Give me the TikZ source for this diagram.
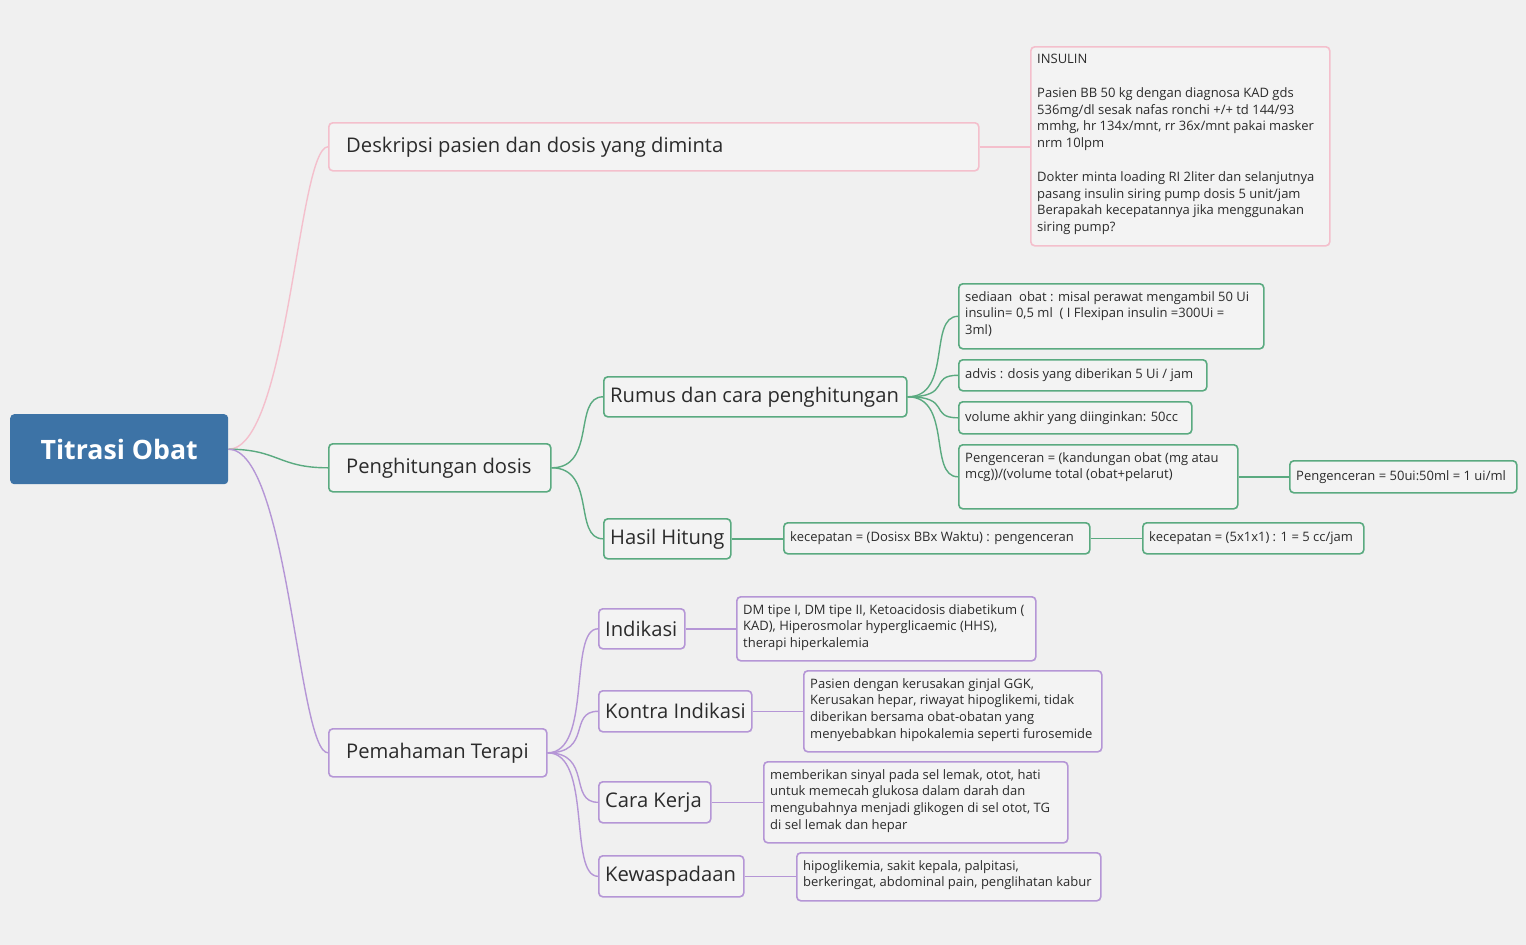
\documentclass[tikz,border=0pt]{standalone}
\usepackage{fontspec}
\setmainfont{Open Sans}
\definecolor{bg}{HTML}{F0F0F0}
\definecolor{boxbg}{HTML}{F3F3F3}
\definecolor{pinkc}{HTML}{F4BFCC}
\definecolor{greenc}{HTML}{5AAA80}
\definecolor{purc}{HTML}{B596D6}
\definecolor{rootc}{HTML}{3D73A6}
\definecolor{txt}{HTML}{2B2B2B}
\tikzset{
 boxsh/.style={draw=#1, fill=boxbg, rounded corners=4pt, line width=1.6pt, anchor=north west, inner sep=0pt},
 sm/.style={font=\fontsize{13}{16.8}\selectfont, text=txt, align=left, inner sep=0pt},
 bg1/.style={font=\fontsize{20.2}{24}\selectfont, text=txt, inner sep=0pt},
 lnk/.style={draw=#1, line width=1.4pt},
}
% name x1 y1 x2 y2 color textstyle text
\newcommand\bxc[9]{%
 \node[boxsh=#6, minimum width={(#4-#2)*1pt}, minimum height={(#5-#3)*1pt}] (#1) at (#2,#3) {};
 \node[#7, anchor=west] (#1t) at ([xshift=#9pt]#1.west) {#8};}
\newcommand\bxt[8]{%
 \node[boxsh=#6, minimum width={(#4-#2)*1pt}, minimum height={(#5-#3)*1pt}] (#1) at (#2,#3) {};
 \node[#7, anchor=north west] (#1t) at ([xshift=7pt,yshift=-8pt]#1.north west) {#8};}
\newcommand\cv[3]{\draw[lnk=#1] (#2.east) .. controls +(45,0) and +(-30,0) .. (#3.west);}
\begin{document}
\begin{tikzpicture}[x=1pt,y=-1pt]
\fill[bg] (0,0) rectangle (1526,945);
\useasboundingbox (0,0) rectangle (1526,945);
\node[fill=rootc, rounded corners=4pt, minimum width=218pt, minimum height=70pt, anchor=north west, inner sep=0pt,
  text=white, font=\fontsize{26.7}{30}\selectfont\bfseries] (root) at (10,414) {Titrasi Obat};
\bxc{desc}{328}{122}{978}{170}{pinkc}{bg1}{Deskripsi pasien dan dosis yang diminta}{18}
\bxt{ins}{1030}{46}{1329}{245}{pinkc}{sm}{INSULIN\\[16.8pt]Pasien BB 50 kg dengan diagnosa KAD gds\\536mg/dl sesak nafas ronchi +/+ td 144/93\\mmhg, hr 134x/mnt, rr 36x/mnt pakai masker\\nrm 10lpm\\[16.8pt]Dokter minta loading RI 2liter dan selanjutnya\\pasang insulin siring pump dosis 5 unit/jam\\Berapakah kecepatannya jika menggunakan\\siring pump?}
\bxc{peng}{328}{443}{550}{491}{greenc}{bg1}{Penghitungan dosis}{18}
\bxc{rumus}{603}{376}{906}{416}{greenc}{bg1}{Rumus dan cara penghitungan}{7}
\bxc{hasil}{603}{518}{730}{558}{greenc}{bg1}{Hasil Hitung}{7}
\bxt{s1}{958}{283}{1263}{348}{greenc}{sm}{sediaan\ \ obat : misal perawat mengambil 50 Ui\\insulin= 0,5 ml\ \ ( I Flexipan insulin =300Ui =\\3ml)}
\bxc{s2}{958}{359}{1206}{390}{greenc}{sm}{advis : dosis yang diberikan 5 Ui / jam}{7}
\bxc{s3}{958}{401}{1191}{433}{greenc}{sm}{volume akhir yang diinginkan: 50cc}{7}
\bxt{s4}{958}{444}{1237}{508}{greenc}{sm}{Pengenceran = (kandungan obat (mg atau\\mcg))/(volume total (obat+pelarut)}
\bxc{s5}{1289}{460}{1516}{492}{greenc}{sm}{Pengenceran = 50ui:50ml = 1 ui/ml}{7}
\bxc{k1}{783}{522}{1089}{553}{greenc}{sm}{kecepatan = (Dosisx BBx Waktu) : pengenceran}{7}
\bxc{k2}{1142}{522}{1363}{553}{greenc}{sm}{kecepatan = (5x1x1) : 1 = 5 cc/jam}{7}
\bxc{pem}{328}{728}{546}{776}{purc}{bg1}{Pemahaman Terapi}{18}
\bxc{ind}{598}{608}{684}{648}{purc}{bg1}{Indikasi}{7}
\bxc{kon}{598}{690}{751}{731}{purc}{bg1}{Kontra Indikasi}{7}
\bxc{cara}{598}{781}{710}{822}{purc}{bg1}{Cara Kerja}{7}
\bxc{kew}{598}{855}{743}{896}{purc}{bg1}{Kewaspadaan}{7}
\bxt{t1}{736}{596}{1035}{660}{purc}{sm}{DM tipe I, DM tipe II, Ketoacidosis diabetikum (\\KAD), Hiperosmolar hyperglicaemic (HHS),\\therapi hiperkalemia}
\bxt{t2}{803}{670}{1101}{751}{purc}{sm}{Pasien dengan kerusakan ginjal GGK,\\Kerusakan hepar, riwayat hipoglikemi, tidak\\diberikan bersama obat-obatan yang\\menyebabkan hipokalemia seperti furosemide}
\bxt{t3}{763}{761}{1067}{842}{purc}{sm}{memberikan sinyal pada sel lemak, otot, hati\\untuk memecah glukosa dalam darah dan\\mengubahnya menjadi glikogen di sel otot, TG\\di sel lemak dan hepar}
\bxt{t4}{796}{852}{1100}{900}{purc}{sm}{hipoglikemia, sakit kepala, palpitasi,\\berkeringat, abdominal pain, penglihatan kabur}
% connectors
\draw[lnk=pinkc] (root.east) .. controls +(60,0) and +(-30,0) .. (desc.west);
\draw[lnk=greenc] (root.east) .. controls +(50,0) and +(-50,0) .. (peng.west);
\draw[lnk=purc] (root.east) .. controls +(60,0) and +(-30,0) .. (pem.west);
\draw[lnk=pinkc] (desc.east) -- (ins.west |- desc.east);
\cv{greenc}{peng}{rumus}
\cv{greenc}{peng}{hasil}
\cv{greenc}{rumus}{s1}
\cv{greenc}{rumus}{s2}
\cv{greenc}{rumus}{s3}
\cv{greenc}{rumus}{s4}
\draw[lnk=greenc] (s4.east |- s5.west) -- (s5.west);
\draw[lnk=greenc] (hasil.east) -- (hasil.east -| k1.west);
\draw[lnk=greenc] (k1.east) -- (k2.west);
\cv{purc}{pem}{ind}
\cv{purc}{pem}{kon}
\cv{purc}{pem}{cara}
\cv{purc}{pem}{kew}
\draw[lnk=purc] (ind.east) -- (ind.east -| t1.west);
\draw[lnk=purc] (kon.east) -- (kon.east -| t2.west);
\draw[lnk=purc] (cara.east) -- (cara.east -| t3.west);
\draw[lnk=purc] (kew.east) -- (kew.east -| t4.west);
\end{tikzpicture}
\end{document}
